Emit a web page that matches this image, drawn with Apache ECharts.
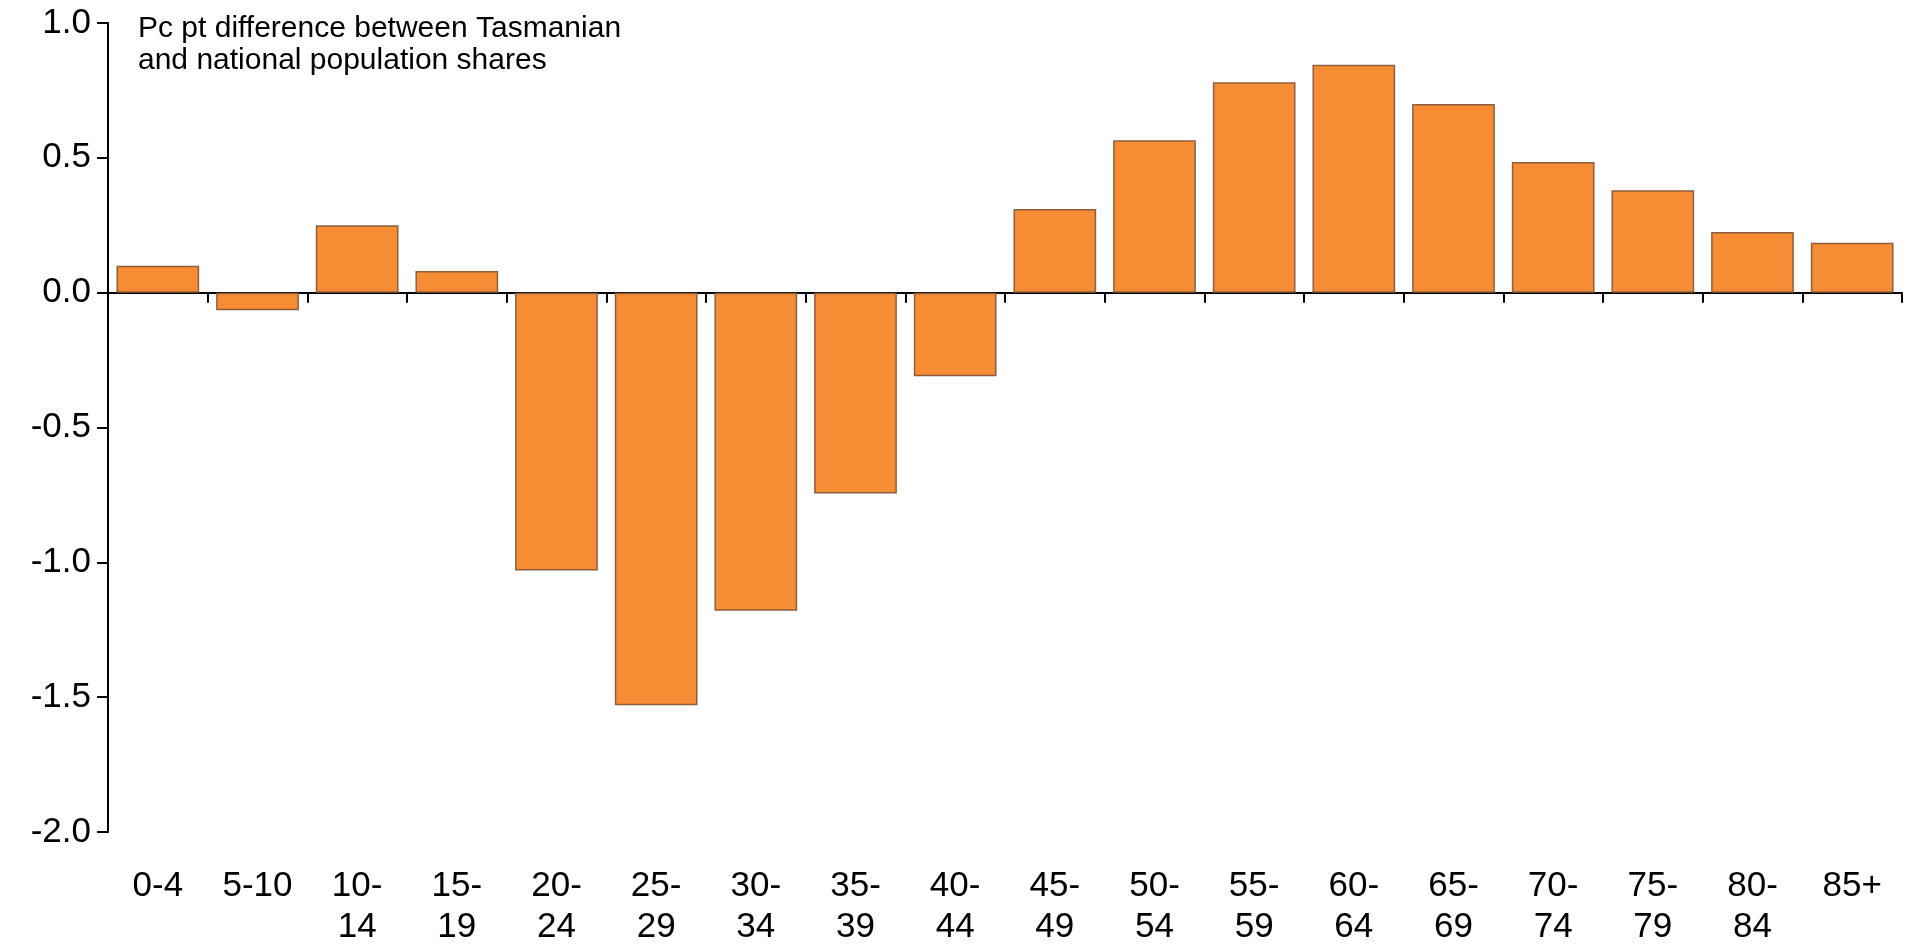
<!DOCTYPE html>
<html>
<head>
<meta charset="utf-8">
<script src="https://cdn.jsdelivr.net/npm/echarts@6/dist/echarts.min.js"></script>
<style>
  html, body { margin: 0; padding: 0; background: #fff; }
  #chart { width: 1910px; height: 948px; }
</style>
</head>
<body>
<div id="chart"></div>
<script>
// Age groups (two-line labels where the group is wide)
const ageGroups = ['0-4', '5-10', '10-\n14', '15-\n19', '20-\n24', '25-\n29', '30-\n34', '35-\n39', '40-\n44',
                   '45-\n49', '50-\n54', '55-\n59', '60-\n64', '65-\n69', '70-\n74', '75-\n79', '80-\n84', '85+'];
// Percentage-point difference between Tasmanian and national population shares
const shareDiff = [0.10, -0.065, 0.25, 0.08, -1.03, -1.53, -1.18, -0.745, -0.31,
                   0.31, 0.565, 0.78, 0.845, 0.70, 0.485, 0.38, 0.225, 0.185];
// Value axis range and step
const yMin = -2.0;
const yMax = 1.0;
const yStep = 0.5;
const axisTitle = 'Pc pt difference between Tasmanian\nand national population shares';

const chart = echarts.init(document.getElementById('chart'), null, { renderer: 'canvas' });
const font = '"Liberation Sans", Arial, sans-serif';

chart.setOption({
  animation: false,
  backgroundColor: '#ffffff',
  title: {
    text: axisTitle,
    left: 138,
    top: 13,
    padding: 0,
    textStyle: { fontFamily: font, fontSize: 30, fontWeight: 'normal', color: '#000', lineHeight: 32 }
  },
  grid: { left: 108, right: 8, top: 23, bottom: 115, containLabel: false },
  xAxis: [
    {
      // zero line with category boundary ticks
      type: 'category',
      data: ageGroups,
      axisLine: { onZero: true, lineStyle: { color: '#000', width: 2 } },
      axisTick: { show: true, length: 10, lineStyle: { color: '#000', width: 2 } },
      axisLabel: { show: false },
      splitLine: { show: false }
    },
    {
      // category names along the bottom of the plot
      type: 'category',
      data: ageGroups,
      position: 'bottom',
      axisLine: { show: false, onZero: false },
      axisTick: { show: false },
      axisLabel: {
        show: true, interval: 0, margin: 34,
        fontFamily: font, fontSize: 35, lineHeight: 41, color: '#000'
      },
      splitLine: { show: false }
    }
  ],
  yAxis: {
    type: 'value',
    min: yMin,
    max: yMax,
    interval: yStep,
    axisLine: { show: true, lineStyle: { color: '#000', width: 2 } },
    axisTick: { show: true, length: 11, lineStyle: { color: '#000', width: 2 } },
    axisLabel: {
      margin: 17, fontFamily: font, fontSize: 35, color: '#000',
      formatter: v => v.toFixed(1)
    },
    splitLine: { show: false }
  },
  series: [{
    type: 'bar',
    xAxisIndex: 0,
    data: shareDiff,
    barCategoryGap: '17%',
    itemStyle: { color: '#F68D34', borderColor: '#8E5D3E', borderWidth: 1.5 }
  }]
});
</script>
</body>
</html>
